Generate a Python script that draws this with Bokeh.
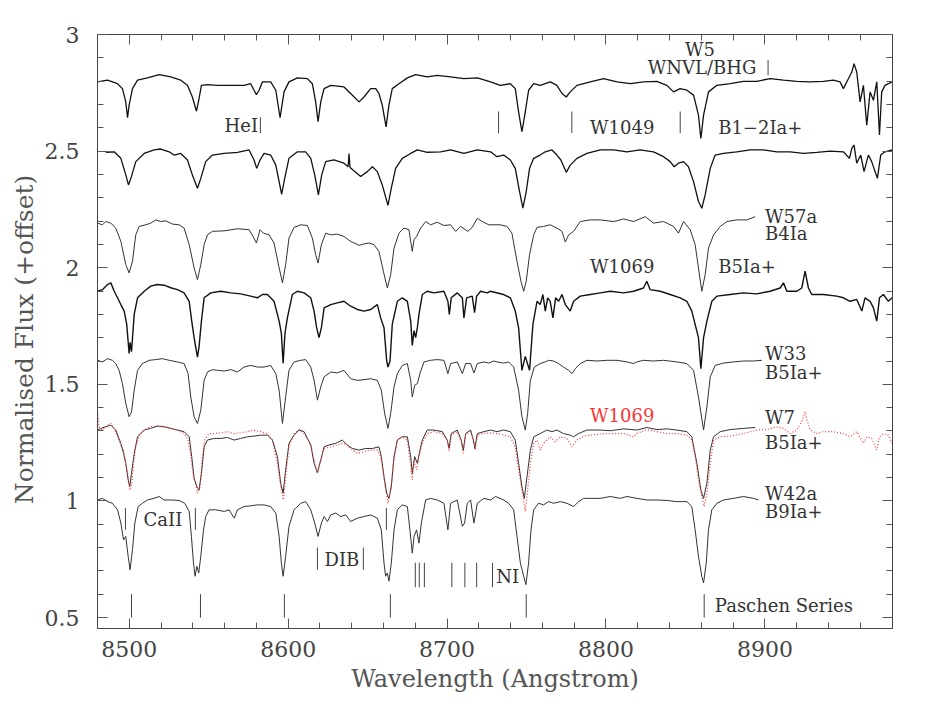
from bokeh.plotting import figure
from bokeh.models import Range1d, LinearAxis, FixedTicker, ColumnDataSource, CustomLabelingPolicy
from bokeh.embed import file_html
from bokeh.resources import INLINE
from bokeh.core.properties import value

# ---------------- spectra (wavelength in Angstrom, normalised flux + offset) ----------------
w5_wl = [8480.0, 8486.3, 8492.6, 8495.7, 8497.8, 8498.9, 8499.9, 8502.0, 8505.2, 8511.4, 8518.8, 8526.1,
         8532.4, 8536.6, 8539.7, 8542.3, 8543.9, 8545.4, 8549.2, 8555.5, 8563.9, 8572.2, 8576.4, 8578.5,
         8580.0, 8581.7, 8583.8, 8589.0, 8592.2, 8594.9, 8597.4, 8600.5, 8605.8, 8612.1, 8615.2, 8617.3,
         8618.8, 8620.5, 8622.6, 8626.8, 8635.1, 8639.3, 8644.6, 8647.7, 8651.9, 8655.1, 8657.1, 8659.2,
         8661.6, 8663.4, 8665.5, 8669.7, 8675.0, 8680.2, 8687.5, 8693.8, 8702.2, 8710.6, 8719.0, 8727.4,
         8733.5, 8739.8, 8742.9, 8745.0, 8747.1, 8749.2, 8751.3, 8754.5, 8758.6, 8764.9, 8769.1, 8772.3,
         8775.0, 8777.5, 8781.7, 8790.1, 8798.5, 8806.9, 8815.3, 8823.6, 8832.0, 8838.3, 8842.5, 8846.7,
         8850.9, 8855.1, 8858.2, 8859.7, 8861.4, 8864.5, 8869.8, 8878.1, 8886.5, 8894.9, 8903.3, 8911.7,
         8920.1, 8928.5, 8936.8, 8943.1, 8947.3, 8949.4, 8952.6, 8954.7, 8956.1, 8957.8, 8959.9, 8962.0,
         8964.1, 8966.2, 8968.3, 8970.4, 8972.1, 8973.5, 8975.6, 8977.7, 8980.0]
w5_fx = [2.797, 2.804, 2.789, 2.768, 2.711, 2.643, 2.697, 2.768, 2.804, 2.814, 2.828, 2.818,
         2.804, 2.782, 2.732, 2.671, 2.725, 2.782, 2.785, 2.782, 2.782, 2.782, 2.789, 2.761,
         2.742, 2.761, 2.797, 2.797, 2.761, 2.643, 2.754, 2.797, 2.814, 2.811, 2.789, 2.711,
         2.626, 2.711, 2.768, 2.782, 2.775, 2.747, 2.711, 2.732, 2.768, 2.768, 2.747, 2.697,
         2.604, 2.697, 2.768, 2.789, 2.814, 2.828, 2.818, 2.825, 2.818, 2.811, 2.814, 2.797,
         2.782, 2.789, 2.768, 2.668, 2.583, 2.668, 2.761, 2.789, 2.782, 2.797, 2.782, 2.747,
         2.732, 2.754, 2.782, 2.797, 2.811, 2.797, 2.789, 2.797, 2.799, 2.782, 2.754, 2.768,
         2.761, 2.740, 2.654, 2.554, 2.654, 2.754, 2.782, 2.789, 2.799, 2.799, 2.811, 2.804,
         2.799, 2.797, 2.799, 2.804, 2.797, 2.768, 2.811, 2.839, 2.875, 2.839, 2.711, 2.782,
         2.611, 2.754, 2.718, 2.797, 2.569, 2.754, 2.782, 2.789, 2.797]

w1049_wl = [8485.2, 8490.5, 8494.7, 8497.8, 8499.5, 8501.0, 8504.1, 8509.4, 8515.6, 8519.8, 8525.1, 8528.2,
            8532.4, 8536.6, 8539.7, 8542.9, 8545.0, 8548.1, 8552.3, 8559.7, 8568.1, 8575.4, 8578.5, 8580.2,
            8582.3, 8584.8, 8589.0, 8592.2, 8594.3, 8595.9, 8597.8, 8600.5, 8605.8, 8611.0, 8614.2, 8616.7,
            8619.0, 8621.1, 8623.6, 8628.8, 8635.1, 8637.7, 8638.3, 8638.9, 8645.6, 8649.8, 8653.0, 8656.1,
            8659.2, 8662.8, 8664.9, 8667.6, 8671.8, 8677.1, 8681.3, 8687.5, 8695.9, 8702.2, 8710.6, 8719.0,
            8727.4, 8731.4, 8735.6, 8739.8, 8742.9, 8745.6, 8747.7, 8749.8, 8751.9, 8754.5, 8758.6, 8761.8,
            8766.0, 8769.1, 8771.6, 8775.0, 8777.5, 8781.7, 8788.0, 8796.4, 8804.8, 8813.2, 8821.5, 8829.9,
            8836.2, 8840.4, 8842.9, 8845.6, 8848.8, 8851.9, 8855.1, 8858.2, 8860.3, 8862.4, 8865.6, 8868.7,
            8873.9, 8882.3, 8890.7, 8899.1, 8907.5, 8915.9, 8924.3, 8932.7, 8941.0, 8949.4, 8953.2, 8954.7,
            8956.1, 8957.8, 8960.3, 8962.4, 8965.1, 8967.2, 8970.8, 8972.9, 8975.6, 8980.0]
w1049_fx = [2.495, 2.497, 2.469, 2.398, 2.355, 2.383, 2.455, 2.490, 2.505, 2.509, 2.497, 2.483,
            2.490, 2.462, 2.398, 2.341, 2.383, 2.455, 2.483, 2.490, 2.495, 2.505, 2.462, 2.426,
            2.462, 2.490, 2.483, 2.440, 2.369, 2.315, 2.383, 2.469, 2.497, 2.497, 2.469, 2.398,
            2.312, 2.398, 2.455, 2.462, 2.448, 2.433, 2.490, 2.430, 2.391, 2.412, 2.433, 2.412,
            2.355, 2.267, 2.341, 2.426, 2.469, 2.490, 2.505, 2.495, 2.497, 2.505, 2.490, 2.505,
            2.497, 2.476, 2.483, 2.462, 2.426, 2.326, 2.255, 2.326, 2.426, 2.469, 2.483, 2.497,
            2.505, 2.483, 2.462, 2.409, 2.440, 2.469, 2.490, 2.505, 2.505, 2.497, 2.505, 2.497,
            2.476, 2.455, 2.433, 2.448, 2.455, 2.433, 2.369, 2.284, 2.255, 2.312, 2.426, 2.483,
            2.490, 2.497, 2.505, 2.505, 2.497, 2.497, 2.490, 2.495, 2.500, 2.497, 2.469, 2.512,
            2.526, 2.448, 2.483, 2.412, 2.483, 2.455, 2.383, 2.483, 2.497, 2.505]

w57a_wl = [8480.0, 8483.1, 8485.2, 8488.4, 8491.5, 8494.7, 8497.8, 8499.9, 8502.0, 8504.1, 8506.2, 8510.4,
           8513.5, 8516.7, 8519.8, 8523.0, 8527.2, 8531.4, 8534.5, 8537.7, 8540.8, 8542.9, 8545.0, 8547.1,
           8549.2, 8552.3, 8559.7, 8568.1, 8575.4, 8577.9, 8580.0, 8582.3, 8584.4, 8588.0, 8591.1, 8594.3,
           8596.4, 8598.4, 8600.5, 8603.7, 8607.9, 8612.1, 8615.2, 8617.3, 8618.8, 8620.9, 8623.6, 8626.8,
           8630.9, 8635.1, 8639.3, 8644.6, 8647.7, 8650.9, 8654.0, 8657.1, 8659.9, 8662.4, 8664.5, 8666.6,
           8669.7, 8672.9, 8676.0, 8677.1, 8678.1, 8679.2, 8680.8, 8683.4, 8686.5, 8689.6, 8693.8, 8698.0,
           8702.2, 8705.4, 8708.5, 8713.1, 8715.8, 8719.0, 8722.1, 8726.3, 8733.5, 8737.7, 8740.8, 8744.0,
           8746.5, 8748.2, 8749.8, 8751.9, 8754.5, 8756.6, 8760.7, 8764.9, 8769.1, 8772.3, 8774.4, 8776.5,
           8779.6, 8783.8, 8790.1, 8796.4, 8804.8, 8811.1, 8817.4, 8824.7, 8829.9, 8836.2, 8842.5, 8845.6,
           8848.8, 8853.0, 8856.1, 8858.2, 8860.3, 8862.4, 8864.5, 8867.7, 8871.9, 8876.1, 8882.3, 8888.6,
           8893.9]
w57a_fx = [2.191, 2.184, 2.198, 2.191, 2.170, 2.113, 2.013, 1.978, 2.027, 2.141, 2.177, 2.184,
           2.191, 2.205, 2.198, 2.201, 2.187, 2.184, 2.170, 2.099, 1.999, 1.949, 2.013, 2.099,
           2.141, 2.156, 2.158, 2.167, 2.163, 2.134, 2.106, 2.163, 2.148, 2.141, 2.106, 1.999,
           1.935, 2.013, 2.127, 2.173, 2.184, 2.181, 2.127, 2.056, 2.020, 2.099, 2.148, 2.141,
           2.144, 2.134, 2.113, 2.096, 2.102, 2.106, 2.099, 2.070, 1.985, 1.913, 1.970, 2.084,
           2.148, 2.170, 2.163, 2.113, 2.070, 2.120, 2.134, 2.170, 2.198, 2.184, 2.195, 2.181,
           2.184, 2.156, 2.177, 2.156, 2.173, 2.212, 2.198, 2.184, 2.184, 2.177, 2.148, 2.027,
           1.942, 1.899, 1.942, 2.056, 2.141, 2.173, 2.177, 2.184, 2.170, 2.156, 2.110, 2.141,
           2.156, 2.198, 2.205, 2.205, 2.198, 2.209, 2.198, 2.219, 2.191, 2.198, 2.177, 2.148,
           2.198, 2.163, 2.099, 1.999, 1.899, 1.970, 2.084, 2.141, 2.177, 2.198, 2.205, 2.205,
           2.219]

w1069_wl = [8480.0, 8483.1, 8486.3, 8488.4, 8490.5, 8492.6, 8494.7, 8496.8, 8498.4, 8499.9, 8500.5, 8501.4,
            8503.1, 8505.2, 8509.4, 8513.5, 8517.7, 8521.9, 8526.1, 8530.3, 8534.5, 8537.7, 8539.3, 8540.8,
            8541.8, 8542.9, 8543.9, 8545.4, 8547.1, 8551.3, 8557.6, 8563.9, 8570.1, 8576.4, 8580.6, 8583.8,
            8586.9, 8591.1, 8594.3, 8595.7, 8596.8, 8598.0, 8599.5, 8602.6, 8605.8, 8610.0, 8614.2, 8616.3,
            8617.9, 8619.4, 8620.9, 8622.6, 8626.8, 8630.9, 8635.1, 8639.3, 8643.5, 8647.7, 8651.9, 8656.1,
            8658.2, 8660.3, 8662.0, 8662.8, 8664.1, 8665.5, 8668.7, 8671.8, 8675.0, 8677.1, 8678.1, 8679.2,
            8680.2, 8681.3, 8682.3, 8684.4, 8687.5, 8691.7, 8698.0, 8700.5, 8701.4, 8702.6, 8706.4, 8709.6,
            8710.6, 8712.3, 8715.8, 8717.3, 8718.6, 8721.1, 8725.3, 8727.2, 8735.6, 8739.8, 8742.9, 8745.0,
            8747.1, 8749.2, 8751.9, 8754.0, 8756.6, 8758.6, 8760.3, 8761.8, 8763.3, 8764.9, 8766.6, 8768.3,
            8770.2, 8772.3, 8774.4, 8777.5, 8779.6, 8783.8, 8790.1, 8796.4, 8802.7, 8811.1, 8817.4, 8823.6,
            8825.7, 8827.8, 8834.1, 8840.4, 8846.7, 8850.9, 8854.0, 8856.1, 8858.2, 8859.7, 8861.4, 8863.5,
            8866.6, 8869.8, 8878.1, 8886.5, 8894.9, 8903.3, 8909.6, 8911.7, 8913.8, 8920.1, 8923.2, 8925.3,
            8927.4, 8929.5, 8936.8, 8945.2, 8949.4, 8953.6, 8957.8, 8961.0, 8963.0, 8966.2, 8968.3, 8970.4,
            8972.1, 8974.6, 8977.7, 8980.0]
w1069_fx = [1.899, 1.906, 1.928, 1.935, 1.899, 1.871, 1.842, 1.814, 1.757, 1.632, 1.680, 1.640,
            1.800, 1.871, 1.899, 1.921, 1.928, 1.925, 1.914, 1.906, 1.892, 1.856, 1.771, 1.700,
            1.660, 1.617, 1.660, 1.771, 1.871, 1.892, 1.899, 1.892, 1.888, 1.878, 1.871, 1.885,
            1.885, 1.856, 1.771, 1.720, 1.590, 1.720, 1.785, 1.885, 1.899, 1.892, 1.871, 1.814,
            1.743, 1.700, 1.743, 1.828, 1.842, 1.849, 1.856, 1.835, 1.821, 1.814, 1.821, 1.842,
            1.785, 1.743, 1.600, 1.574, 1.600, 1.757, 1.856, 1.871, 1.856, 1.771, 1.667, 1.730,
            1.700, 1.743, 1.800, 1.885, 1.899, 1.892, 1.899, 1.856, 1.800, 1.871, 1.892, 1.871,
            1.785, 1.871, 1.878, 1.807, 1.878, 1.899, 1.892, 1.899, 1.885, 1.871, 1.814, 1.743,
            1.560, 1.620, 1.560, 1.757, 1.856, 1.842, 1.885, 1.814, 1.871, 1.856, 1.785, 1.871,
            1.856, 1.885, 1.842, 1.814, 1.856, 1.878, 1.885, 1.892, 1.899, 1.892, 1.899, 1.913,
            1.942, 1.906, 1.899, 1.885, 1.871, 1.856, 1.814, 1.757, 1.700, 1.567, 1.700, 1.771,
            1.856, 1.878, 1.885, 1.892, 1.888, 1.899, 1.913, 1.935, 1.899, 1.899, 1.913, 1.985,
            1.913, 1.885, 1.885, 1.878, 1.871, 1.856, 1.864, 1.814, 1.871, 1.856, 1.828, 1.771,
            1.871, 1.885, 1.856, 1.871]

w33_wl = [8480.0, 8483.1, 8486.3, 8489.4, 8491.5, 8493.6, 8495.7, 8497.8, 8499.9, 8501.4, 8503.1, 8505.2,
          8508.3, 8512.5, 8516.7, 8520.9, 8525.1, 8530.3, 8534.5, 8537.0, 8538.7, 8540.8, 8542.9, 8545.0,
          8547.1, 8549.2, 8552.3, 8555.5, 8559.7, 8563.9, 8568.1, 8572.2, 8576.4, 8580.6, 8584.8, 8589.0,
          8592.2, 8594.3, 8596.4, 8598.4, 8600.5, 8603.7, 8607.9, 8611.0, 8614.2, 8616.3, 8618.4, 8620.5,
          8622.6, 8626.8, 8630.9, 8635.1, 8639.3, 8643.5, 8647.7, 8651.9, 8656.1, 8658.6, 8660.7, 8662.8,
          8664.5, 8666.6, 8668.7, 8671.8, 8675.0, 8677.1, 8678.1, 8679.6, 8681.3, 8682.9, 8685.5, 8689.6,
          8693.8, 8698.0, 8700.5, 8702.2, 8706.4, 8709.6, 8711.7, 8714.8, 8716.9, 8719.0, 8723.2, 8726.3,
          8729.5, 8731.4, 8735.6, 8738.7, 8741.9, 8745.0, 8747.1, 8749.2, 8750.7, 8752.4, 8754.9, 8758.6,
          8761.8, 8763.9, 8767.0, 8770.2, 8773.3, 8776.5, 8778.6, 8780.7, 8783.8, 8788.0, 8794.3, 8800.6,
          8806.9, 8813.2, 8817.4, 8819.4, 8823.6, 8829.9, 8836.2, 8844.6, 8850.9, 8855.1, 8858.2, 8861.4,
          8863.5, 8865.6, 8868.7, 8873.9, 8880.2, 8886.5, 8892.8, 8898.1]
w33_fx = [1.603, 1.596, 1.610, 1.603, 1.589, 1.560, 1.503, 1.418, 1.361, 1.382, 1.475, 1.560,
          1.589, 1.603, 1.606, 1.610, 1.603, 1.596, 1.589, 1.546, 1.446, 1.361, 1.332, 1.389,
          1.517, 1.553, 1.563, 1.560, 1.557, 1.563, 1.553, 1.574, 1.581, 1.574, 1.574, 1.581,
          1.546, 1.475, 1.332, 1.446, 1.560, 1.596, 1.603, 1.606, 1.574, 1.517, 1.432, 1.489,
          1.532, 1.553, 1.549, 1.560, 1.524, 1.517, 1.520, 1.524, 1.517, 1.475, 1.375, 1.311,
          1.375, 1.489, 1.546, 1.581, 1.589, 1.517, 1.446, 1.496, 1.503, 1.546, 1.596, 1.603,
          1.606, 1.603, 1.546, 1.589, 1.596, 1.546, 1.589, 1.589, 1.549, 1.589, 1.596, 1.591,
          1.600, 1.596, 1.591, 1.596, 1.574, 1.475, 1.361, 1.304, 1.375, 1.517, 1.574, 1.589,
          1.596, 1.603, 1.600, 1.589, 1.574, 1.560, 1.546, 1.567, 1.589, 1.603, 1.600, 1.603,
          1.603, 1.596, 1.589, 1.596, 1.603, 1.600, 1.603, 1.596, 1.589, 1.560, 1.446, 1.304,
          1.403, 1.532, 1.581, 1.591, 1.596, 1.600, 1.600, 1.603]

w7_wl = [8480.0, 8482.1, 8485.2, 8488.4, 8491.5, 8494.7, 8496.4, 8497.8, 8499.3, 8500.3, 8501.4, 8503.1,
         8505.2, 8509.4, 8513.5, 8517.7, 8521.9, 8526.1, 8530.3, 8534.5, 8537.7, 8539.3, 8540.8, 8542.5,
         8543.9, 8545.4, 8547.1, 8549.2, 8553.4, 8557.6, 8561.8, 8566.0, 8570.1, 8574.3, 8578.5, 8582.7,
         8586.9, 8590.1, 8593.2, 8595.3, 8596.8, 8598.4, 8600.5, 8603.7, 8606.8, 8610.0, 8614.2, 8616.3,
         8618.4, 8620.5, 8622.6, 8625.7, 8629.9, 8634.1, 8637.2, 8640.4, 8644.6, 8648.8, 8653.0, 8657.1,
         8658.6, 8660.3, 8662.0, 8663.4, 8664.9, 8666.6, 8668.7, 8671.8, 8675.0, 8677.1, 8678.1, 8679.6,
         8681.3, 8682.5, 8684.4, 8687.5, 8691.7, 8697.0, 8700.1, 8701.2, 8702.6, 8706.4, 8708.9, 8710.2,
         8711.7, 8714.8, 8716.5, 8717.5, 8719.0, 8723.2, 8727.4, 8731.4, 8735.6, 8739.8, 8742.9, 8745.0,
         8747.1, 8748.6, 8750.3, 8752.4, 8754.5, 8758.6, 8762.8, 8766.0, 8769.1, 8773.3, 8777.5, 8779.6,
         8782.8, 8788.0, 8796.4, 8802.7, 8811.1, 8819.4, 8825.7, 8832.0, 8838.3, 8844.6, 8850.9, 8854.0,
         8857.2, 8859.7, 8861.4, 8863.5, 8865.6, 8867.7, 8871.9, 8878.1, 8886.5, 8893.9]
w7_fx = [1.304, 1.311, 1.318, 1.325, 1.304, 1.247, 1.204, 1.161, 1.090, 1.061, 1.118, 1.204,
         1.275, 1.304, 1.311, 1.321, 1.318, 1.311, 1.304, 1.297, 1.275, 1.190, 1.097, 1.061,
         1.047, 1.118, 1.232, 1.261, 1.268, 1.268, 1.272, 1.261, 1.268, 1.275, 1.278, 1.282,
         1.282, 1.261, 1.190, 1.076, 1.033, 1.133, 1.247, 1.282, 1.304, 1.297, 1.240, 1.161,
         1.121, 1.175, 1.232, 1.240, 1.247, 1.261, 1.240, 1.225, 1.218, 1.225, 1.225, 1.232,
         1.190, 1.104, 1.033, 1.011, 1.061, 1.190, 1.261, 1.275, 1.275, 1.190, 1.118, 1.190,
         1.161, 1.204, 1.261, 1.304, 1.304, 1.297, 1.261, 1.225, 1.289, 1.304, 1.261, 1.218,
         1.289, 1.304, 1.261, 1.225, 1.289, 1.297, 1.304, 1.297, 1.304, 1.297, 1.261, 1.161,
         1.061, 1.011, 1.104, 1.218, 1.275, 1.289, 1.304, 1.297, 1.304, 1.289, 1.282, 1.275,
         1.289, 1.304, 1.304, 1.301, 1.309, 1.304, 1.315, 1.306, 1.309, 1.304, 1.297, 1.275,
         1.161, 1.047, 1.011, 1.076, 1.218, 1.275, 1.297, 1.306, 1.311, 1.315]

w1069o_wl = [8480.0, 8481.0, 8483.1, 8486.3, 8488.4, 8490.5, 8492.6, 8494.7, 8496.4, 8497.8, 8499.3, 8500.3,
             8501.4, 8502.6, 8504.1, 8506.2, 8509.4, 8513.5, 8517.7, 8521.9, 8526.1, 8530.3, 8534.5, 8537.0,
             8538.7, 8540.4, 8541.8, 8542.9, 8544.6, 8546.0, 8547.5, 8550.2, 8553.4, 8557.6, 8561.8, 8566.0,
             8570.1, 8574.3, 8578.5, 8582.7, 8586.9, 8590.1, 8593.2, 8595.3, 8597.0, 8598.4, 8600.5, 8603.7,
             8606.8, 8610.0, 8614.2, 8616.3, 8618.4, 8620.5, 8622.6, 8626.8, 8630.9, 8635.1, 8639.3, 8643.5,
             8647.7, 8651.9, 8656.1, 8658.2, 8659.9, 8661.3, 8662.8, 8664.5, 8666.2, 8668.7, 8671.8, 8675.0,
             8676.6, 8678.1, 8679.2, 8680.8, 8682.3, 8684.4, 8687.5, 8691.7, 8697.0, 8700.1, 8701.4, 8702.6,
             8706.4, 8708.9, 8710.2, 8711.7, 8714.8, 8716.9, 8717.7, 8719.0, 8723.2, 8727.4, 8731.4, 8735.6,
             8739.8, 8742.9, 8745.0, 8747.1, 8749.2, 8750.7, 8752.4, 8754.5, 8756.6, 8758.6, 8760.7, 8762.8,
             8764.9, 8768.1, 8771.2, 8775.4, 8778.6, 8781.7, 8785.9, 8790.1, 8796.4, 8802.7, 8811.1, 8817.4,
             8819.4, 8825.7, 8832.0, 8838.3, 8844.6, 8850.9, 8854.0, 8856.1, 8858.2, 8860.3, 8861.8, 8863.5,
             8865.6, 8867.7, 8871.9, 8878.1, 8886.5, 8894.9, 8901.2, 8907.5, 8911.7, 8915.9, 8920.1, 8923.2,
             8925.3, 8926.8, 8928.5, 8932.7, 8936.8, 8943.1, 8949.4, 8953.6, 8957.8, 8962.0, 8964.1, 8967.2,
             8970.4, 8972.1, 8974.6, 8977.7, 8980.0]
w1069o_fx = [1.382, 1.318, 1.304, 1.325, 1.332, 1.311, 1.275, 1.240, 1.218, 1.161, 1.104, 1.047,
             1.061, 1.161, 1.232, 1.282, 1.304, 1.318, 1.321, 1.318, 1.311, 1.304, 1.289, 1.261,
             1.190, 1.104, 1.076, 1.033, 1.061, 1.190, 1.261, 1.289, 1.289, 1.292, 1.297, 1.289,
             1.292, 1.297, 1.304, 1.297, 1.289, 1.261, 1.161, 1.061, 1.004, 1.104, 1.232, 1.289,
             1.304, 1.289, 1.240, 1.175, 1.118, 1.175, 1.225, 1.232, 1.240, 1.247, 1.225, 1.204,
             1.211, 1.218, 1.218, 1.190, 1.118, 1.047, 0.990, 1.047, 1.161, 1.261, 1.275, 1.261,
             1.175, 1.090, 1.175, 1.133, 1.190, 1.247, 1.289, 1.297, 1.289, 1.261, 1.211, 1.282,
             1.297, 1.254, 1.204, 1.282, 1.297, 1.254, 1.218, 1.282, 1.289, 1.292, 1.289, 1.282,
             1.275, 1.232, 1.133, 1.047, 0.955, 1.047, 1.161, 1.247, 1.261, 1.218, 1.247, 1.261,
             1.275, 1.254, 1.275, 1.268, 1.232, 1.261, 1.278, 1.282, 1.287, 1.289, 1.289, 1.275,
             1.289, 1.306, 1.297, 1.289, 1.289, 1.282, 1.261, 1.190, 1.090, 1.019, 0.976, 1.033,
             1.161, 1.261, 1.275, 1.278, 1.289, 1.304, 1.306, 1.318, 1.311, 1.289, 1.304, 1.340,
             1.382, 1.340, 1.304, 1.289, 1.297, 1.297, 1.289, 1.275, 1.297, 1.247, 1.275, 1.268,
             1.218, 1.275, 1.289, 1.282, 1.247]

w42a_wl = [8480.0, 8483.1, 8486.3, 8489.4, 8492.6, 8494.7, 8496.4, 8497.8, 8499.3, 8500.5, 8502.0, 8503.5,
           8505.6, 8508.3, 8511.4, 8515.6, 8518.8, 8521.9, 8527.2, 8531.4, 8534.9, 8537.7, 8539.1, 8540.4,
           8541.4, 8542.5, 8543.7, 8545.0, 8546.7, 8548.1, 8550.2, 8554.4, 8559.7, 8562.8, 8566.0, 8568.1,
           8572.2, 8576.4, 8580.6, 8584.8, 8589.0, 8592.2, 8594.3, 8595.7, 8596.8, 8598.4, 8600.5, 8603.7,
           8607.9, 8611.0, 8614.2, 8616.7, 8618.8, 8620.9, 8622.6, 8624.7, 8626.8, 8629.9, 8633.0, 8636.2,
           8639.3, 8643.5, 8647.7, 8651.9, 8656.1, 8658.6, 8660.3, 8661.3, 8662.4, 8663.4, 8664.9, 8666.6,
           8668.7, 8671.8, 8675.0, 8676.6, 8678.1, 8679.2, 8680.8, 8682.3, 8683.8, 8686.5, 8689.6, 8693.8,
           8698.0, 8700.5, 8702.2, 8706.4, 8709.6, 8711.0, 8712.7, 8714.8, 8716.9, 8719.0, 8723.2, 8727.4,
           8730.5, 8735.6, 8738.7, 8741.9, 8744.0, 8746.1, 8748.2, 8749.6, 8751.3, 8752.8, 8754.5, 8757.6,
           8760.7, 8763.9, 8767.0, 8771.2, 8775.4, 8779.6, 8782.8, 8785.9, 8790.1, 8796.4, 8802.7, 8809.0,
           8813.2, 8819.4, 8825.7, 8832.0, 8838.3, 8844.6, 8850.9, 8854.0, 8856.1, 8858.2, 8860.3, 8861.4,
           8863.1, 8864.5, 8866.6, 8869.8, 8873.9, 8880.2, 8886.5, 8892.8, 8896.0]
w42a_fx = [1.004, 1.011, 0.997, 0.990, 0.962, 0.905, 0.833, 0.848, 0.762, 0.705, 0.791, 0.905,
           0.976, 0.990, 1.004, 1.011, 1.019, 1.004, 1.004, 1.002, 0.990, 0.955, 0.848, 0.734,
           0.677, 0.720, 0.691, 0.762, 0.876, 0.933, 0.962, 0.962, 0.955, 0.962, 0.926, 0.962,
           0.976, 0.979, 0.983, 0.983, 0.976, 0.948, 0.848, 0.734, 0.677, 0.762, 0.891, 0.962,
           0.990, 0.997, 0.962, 0.905, 0.848, 0.905, 0.933, 0.912, 0.940, 0.948, 0.933, 0.940,
           0.912, 0.926, 0.933, 0.940, 0.926, 0.876, 0.734, 0.677, 0.691, 0.656, 0.734, 0.876,
           0.962, 0.983, 0.976, 0.876, 0.776, 0.848, 0.876, 0.819, 0.905, 1.004, 1.011, 1.004,
           0.990, 0.876, 0.990, 1.004, 0.891, 0.905, 0.990, 1.004, 0.905, 0.990, 1.011, 1.004,
           1.019, 1.004, 0.990, 0.962, 0.848, 0.734, 0.677, 0.641, 0.734, 0.876, 0.962, 0.990,
           0.983, 0.997, 0.990, 0.997, 0.990, 0.976, 0.997, 1.011, 1.011, 1.011, 1.019, 1.011,
           1.019, 1.011, 1.004, 1.004, 1.002, 0.997, 0.997, 0.976, 0.876, 0.762, 0.677, 0.648,
           0.734, 0.876, 0.962, 0.990, 1.004, 1.011, 1.019, 1.011, 1.004]

# ---------------- line identification markers ----------------
mark_x = [8582.5, 8732.4, 8778.5, 8846.7, 8902.0,
          8497.6, 8541.6, 8661.8,
          8618.4, 8647.3,
          8680.0, 8682.5, 8685.7, 8703.0, 8711.2, 8718.6, 8728.6,
          8501.4, 8544.8, 8597.6, 8664.3, 8749.8, 8861.8]
mark_y0 = [2.577, 2.577, 2.577, 2.577, 2.825,
           0.876, 0.876, 0.876,
           0.705, 0.705,
           0.630, 0.630, 0.630, 0.630, 0.630, 0.630, 0.630,
           0.500, 0.500, 0.500, 0.500, 0.500, 0.500]
mark_y1 = [2.645, 2.670, 2.670, 2.670, 2.890,
           0.970, 0.970, 0.970,
           0.800, 0.800,
           0.735, 0.735, 0.735, 0.735, 0.735, 0.735, 0.735,
           0.600, 0.600, 0.600, 0.600, 0.600, 0.600]

# ---------------- annotations ----------------
lab_text = ["HeI", "CaII", "DIB", "NI", "Paschen Series", "W5", "WNVL/BHG", "W1049", "B1\u22122Ia+",
            "W57a", "B4Ia", "W1069", "B5Ia+", "W33", "B5Ia+", "W7", "B5Ia+", "W42a", "B9Ia+"]
lab_x = [8581.0, 8509.0, 8633.8, 8731.0, 8868.5, 8859.2, 8860.5, 8810.2, 8870.6,
         8900.1, 8900.1, 8810.2, 8870.6, 8900.1, 8900.1, 8900.1, 8900.1, 8900.1, 8900.1]
lab_y = [2.610, 0.919, 0.748, 0.675, 0.551, 2.936, 2.859, 2.603, 2.603,
         2.218, 2.145, 2.004, 2.004, 1.632, 1.551, 1.359, 1.252, 1.034, 0.953]
lab_align = ["right", "left", "center", "left", "left", "center", "center", "center", "left",
             "left", "left", "center", "left", "left", "left", "left", "left", "left", "left"]

red_label = ["W1069"]
red_label_x = [8810.2]
red_label_y = [1.368]

x_major = [8500, 8600, 8700, 8800, 8900]
x_minor = [8480 + 20 * i for i in range(26)]
y_major = [0.5, 1.0, 1.5, 2.0, 2.5, 3.0]
y_minor = [round(0.5 + 0.1 * i, 1) for i in range(26)]
y_labels = {0.5: "0.5", 1: "1", 1.5: "1.5", 2: "2", 2.5: "2.5", 3: "3"}

SERIF = "DejaVu Serif"

p = figure(width=938, height=698, x_range=Range1d(8480, 8980.3), y_range=Range1d(0.453, 3.0),
           output_backend="svg", toolbar_location=None,
           min_border_left=97, min_border_right=46, min_border_top=34, min_border_bottom=70)
p.xgrid.visible = False
p.ygrid.visible = False
p.outline_line_color = "#444444"
p.background_fill_color = "white"
p.border_fill_color = "white"

bottom_ax = p.below[0]
left_ax = p.left[0]

xt = FixedTicker(ticks=x_major, minor_ticks=x_minor)
yt = FixedTicker(ticks=y_major, minor_ticks=y_minor)
bottom_ax.ticker = xt
left_ax.ticker = yt
left_ax.major_label_overrides = y_labels

top_ax = LinearAxis(ticker=xt, major_label_policy=CustomLabelingPolicy(code="return new Set()"))
right_ax = LinearAxis(ticker=yt, major_label_policy=CustomLabelingPolicy(code="return new Set()"))
p.add_layout(top_ax, "above")
p.add_layout(right_ax, "right")

for ax in [bottom_ax, left_ax, top_ax, right_ax]:
    ax.major_tick_in = 10
    ax.major_tick_out = 0
    ax.minor_tick_in = 6
    ax.minor_tick_out = 0
    ax.axis_line_color = "#444444"
    ax.major_tick_line_color = "#555555"
    ax.minor_tick_line_color = "#555555"
    ax.major_label_text_font = SERIF
    ax.major_label_text_font_size = "22px"
    ax.major_label_text_color = "#444444"
    ax.axis_label_text_font = SERIF
    ax.axis_label_text_font_style = "normal"
    ax.axis_label_text_color = "#555555"
    ax.axis_label_text_font_size = "24px"

for ax in [top_ax, right_ax]:
    ax.major_label_standoff = 0

bottom_ax.axis_label = "Wavelength (Angstrom)"
bottom_ax.major_label_standoff = 12
bottom_ax.axis_label_standoff = 5
left_ax.axis_label = "Normalised  Flux  (+offset)"
left_ax.major_label_standoff = 18
left_ax.axis_label_standoff = 3
left_ax.axis_label_text_font_size = "25px"

# spectra
p.line(w5_wl, w5_fx, line_color="#111111", line_width=1.3)
p.line(w1049_wl, w1049_fx, line_color="#111111", line_width=1.3)
p.line(w57a_wl, w57a_fx, line_color="#333333", line_width=1)
p.line(w1069_wl, w1069_fx, line_color="#111111", line_width=1.4)
p.line(w33_wl, w33_fx, line_color="#333333", line_width=1)
p.line(w7_wl, w7_fx, line_color="#333333", line_width=1)
p.line(w1069o_wl, w1069o_fx, line_color="#ff3333", line_width=1.2, line_dash="1 2")
p.line(w42a_wl, w42a_fx, line_color="#333333", line_width=1)

# markers
p.segment(x0=mark_x, y0=mark_y0, x1=mark_x, y1=mark_y1, line_color="#444444", line_width=1)

# labels
src = ColumnDataSource(dict(x=lab_x, y=lab_y, text=lab_text, align=lab_align))
p.text(x="x", y="y", text="text", source=src, text_align="align", text_baseline="middle",
       text_font=value(SERIF), text_font_size="18px", text_color="#333333")
p.text(x=red_label_x, y=red_label_y, text=red_label, text_align="center", text_baseline="middle",
       text_font=value(SERIF), text_font_size="18px", text_color="#ff3333")

open("out.html", "w").write(file_html(p, INLINE))
